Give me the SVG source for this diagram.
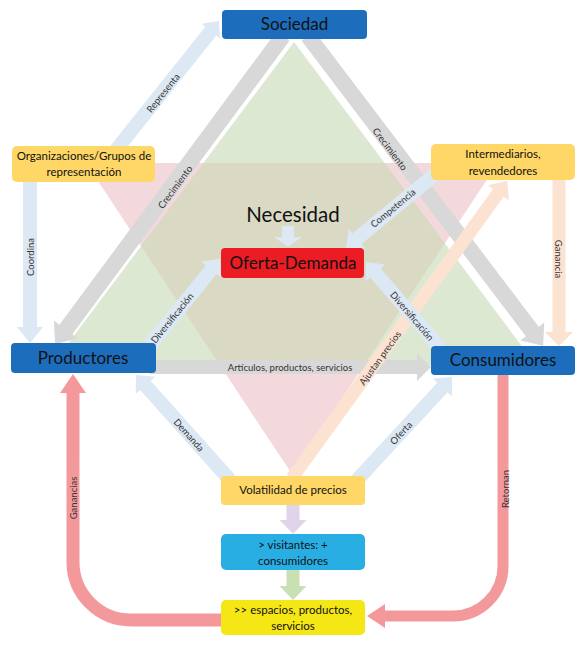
<svg xmlns="http://www.w3.org/2000/svg" width="585" height="646" viewBox="0 0 585 646">
<style>
.t{font-family:Lato,"Liberation Sans",sans-serif;fill:#111;text-anchor:middle}
.big{font-size:17px}
.mid{font-size:11.5px}
.lbl{font-family:Lato,"Liberation Sans",sans-serif;font-size:9.5px;fill:#333;text-anchor:middle;dominant-baseline:central}
.gray{fill:#d8d8d8}
.blue{fill:#dce8f4}
.peach{fill:#fbe2d1}
.blueBox{fill:#1d6dbd}
.yel{fill:#fed766}
</style>
<rect width="585" height="646" fill="#fff"/>
<g id="background">
<polygon points="86,163 498,163 292,474" fill="#f4d9dc"/>
<polygon points="294,42 52,365 536,365" fill="#c6d9b4" fill-opacity="0.6"/>
</g>
<g id="connectors">
<!-- gray -->
<path class="gray" transform="translate(283,36) rotate(126.5)" d="M0,-8 H365 V-15 L383,0 L365,15 V8 H0 Z"/>
<path class="gray" transform="translate(308,36) rotate(52.8)" d="M0,-8 H371 V-15 L389,0 L371,15 V8 H0 Z"/>
<path class="gray" transform="translate(150,367) rotate(0)" d="M0,-7 H267 V-14 L281,0 L267,14 V7 H0 Z"/>
<!-- peach -->
<path class="peach" transform="translate(292,478) rotate(-54.1)" d="M0,-6.5 H352 V-13 L367,0 L352,13 V6.5 H0 Z"/>
<path class="peach" transform="translate(559,178) rotate(90)" d="M0,-6.5 H154 V-14 L168,0 L154,14 V6.5 H0 Z"/>
<!-- blue -->
<path class="blue" transform="translate(116,150) rotate(-51.4)" d="M0,-7 H152 V-12 L165,0 L152,12 V7 H0 Z"/>
<path class="blue" transform="translate(30,180) rotate(90)" d="M0,-7 H147 V-13 L163,0 L147,13 V7 H0 Z"/>
<path class="blue" transform="translate(445,166) rotate(140.4)" d="M0,-7 H114 V-13 L128.6,0 L114,13 V7 H0 Z"/>
<path class="blue" transform="translate(288,226) rotate(90)" d="M0,-6 H11 V-14 L21,0 L11,14 V6 H0 Z"/>
<path class="blue" transform="translate(150,345) rotate(-50.9)" d="M0,-7 H97 V-13 L111,0 L97,13 V7 H0 Z"/>
<path class="blue" transform="translate(440,348) rotate(-130.7)" d="M0,-7 H99 V-13 L113.5,0 L99,13 V7 H0 Z"/>
<path class="blue" transform="translate(230,480) rotate(-131.8)" d="M0,-7 H127 V-13 L141,0 L127,13 V7 H0 Z"/>
<path class="blue" transform="translate(357,480) rotate(-47.3)" d="M0,-7 H126 V-13 L140,0 L126,13 V7 H0 Z"/>
<!-- vertical flow -->
<path fill="#e0d4ea" transform="translate(293,503) rotate(90)" d="M0,-6.5 H17 V-13.5 L31,0 L17,13.5 V6.5 H0 Z"/>
<path fill="#c9e0b4" transform="translate(293,568) rotate(90)" d="M0,-6.5 H18 V-13.5 L32,0 L18,13.5 V6.5 H0 Z"/>
<!-- salmon loops -->
<path d="M221,620 H131 A58,58 0 0 1 73,562 V391" fill="none" stroke="#f4999b" stroke-width="13"/>
<polygon points="60,393 86,393 73,374" fill="#f4999b"/>
<path d="M503,374 V566 A50,50 0 0 1 453,616 H384" fill="none" stroke="#f4999b" stroke-width="11"/>
<polygon points="385,604 385,628 367,616" fill="#f4999b"/>
<!-- labels -->
<text class="lbl" transform="translate(163,93) rotate(-51.4)">Representa</text>
<text class="lbl" transform="translate(175,187) rotate(-53.5)">Crecimiento</text>
<text class="lbl" transform="translate(390,149) rotate(52.8)">Crecimiento</text>
<text class="lbl" transform="translate(30,257) rotate(-90)">Coordina</text>
<text class="lbl" transform="translate(558,259) rotate(90)">Ganancia</text>
<text class="lbl" transform="translate(393,208) rotate(-39.6)">Competencia</text>
<text class="lbl" transform="translate(172,318) rotate(-50.9)">Diversificación</text>
<text class="lbl" transform="translate(412,316) rotate(49.3)">Diversificación</text>
<text class="lbl" transform="translate(290,367)">Artículos, productos, servicios</text>
<text class="lbl" transform="translate(380,358) rotate(-54.1)">Ajustan precios</text>
<text class="lbl" transform="translate(189,435) rotate(48.2)">Demanda</text>
<text class="lbl" transform="translate(401,433) rotate(-47.3)">Oferta</text>
<text class="lbl" transform="translate(73,498) rotate(-90)">Ganancias</text>
<text class="lbl" transform="translate(505,489) rotate(-90)">Retornan</text>
</g>
<g id="sociedad">
<rect class="blueBox" x="222" y="10" width="145" height="29" rx="4"/>
<text class="t big" x="294.5" y="30">Sociedad</text>
</g>
<g id="organizaciones">
<rect class="yel" x="12" y="146" width="143" height="36" rx="5"/>
<text class="t mid" x="84" y="160">Organizaciones/Grupos de</text>
<text class="t mid" x="84" y="176">representación</text>
</g>
<g id="intermediarios">
<rect class="yel" x="431" y="144" width="144" height="36" rx="5"/>
<text class="t mid" x="503" y="158">Intermediarios,</text>
<text class="t mid" x="503" y="175">revendedores</text>
</g>
<g id="necesidad">
<text class="t" x="293" y="222" font-size="20.5">Necesidad</text>
</g>
<g id="oferta-demanda">
<rect x="221" y="248" width="143" height="30" rx="4" fill="#ec1c24"/>
<text class="t" x="293" y="268.5" font-size="17">Oferta-Demanda</text>
</g>
<g id="productores">
<rect class="blueBox" x="11" y="343" width="145" height="30" rx="4"/>
<text class="t big" x="83" y="364">Productores</text>
</g>
<g id="consumidores">
<rect class="blueBox" x="431" y="346" width="144" height="29" rx="4"/>
<text class="t big" x="503" y="366">Consumidores</text>
</g>
<g id="volatilidad">
<rect class="yel" x="221" y="476" width="144" height="29" rx="4"/>
<text class="t mid" x="293" y="494">Volatilidad de precios</text>
</g>
<g id="visitantes">
<rect x="221" y="534" width="144" height="36" rx="5" fill="#29aee4"/>
<text class="t mid" x="293" y="549">&gt; visitantes: +</text>
<text class="t mid" x="293" y="565">consumidores</text>
</g>
<g id="espacios">
<rect x="221" y="600" width="144" height="35" rx="5" fill="#f5e616"/>
<text class="t mid" x="293" y="614">&gt;&gt; espacios, productos,</text>
<text class="t mid" x="293" y="630">servicios</text>
</g>
</svg>
